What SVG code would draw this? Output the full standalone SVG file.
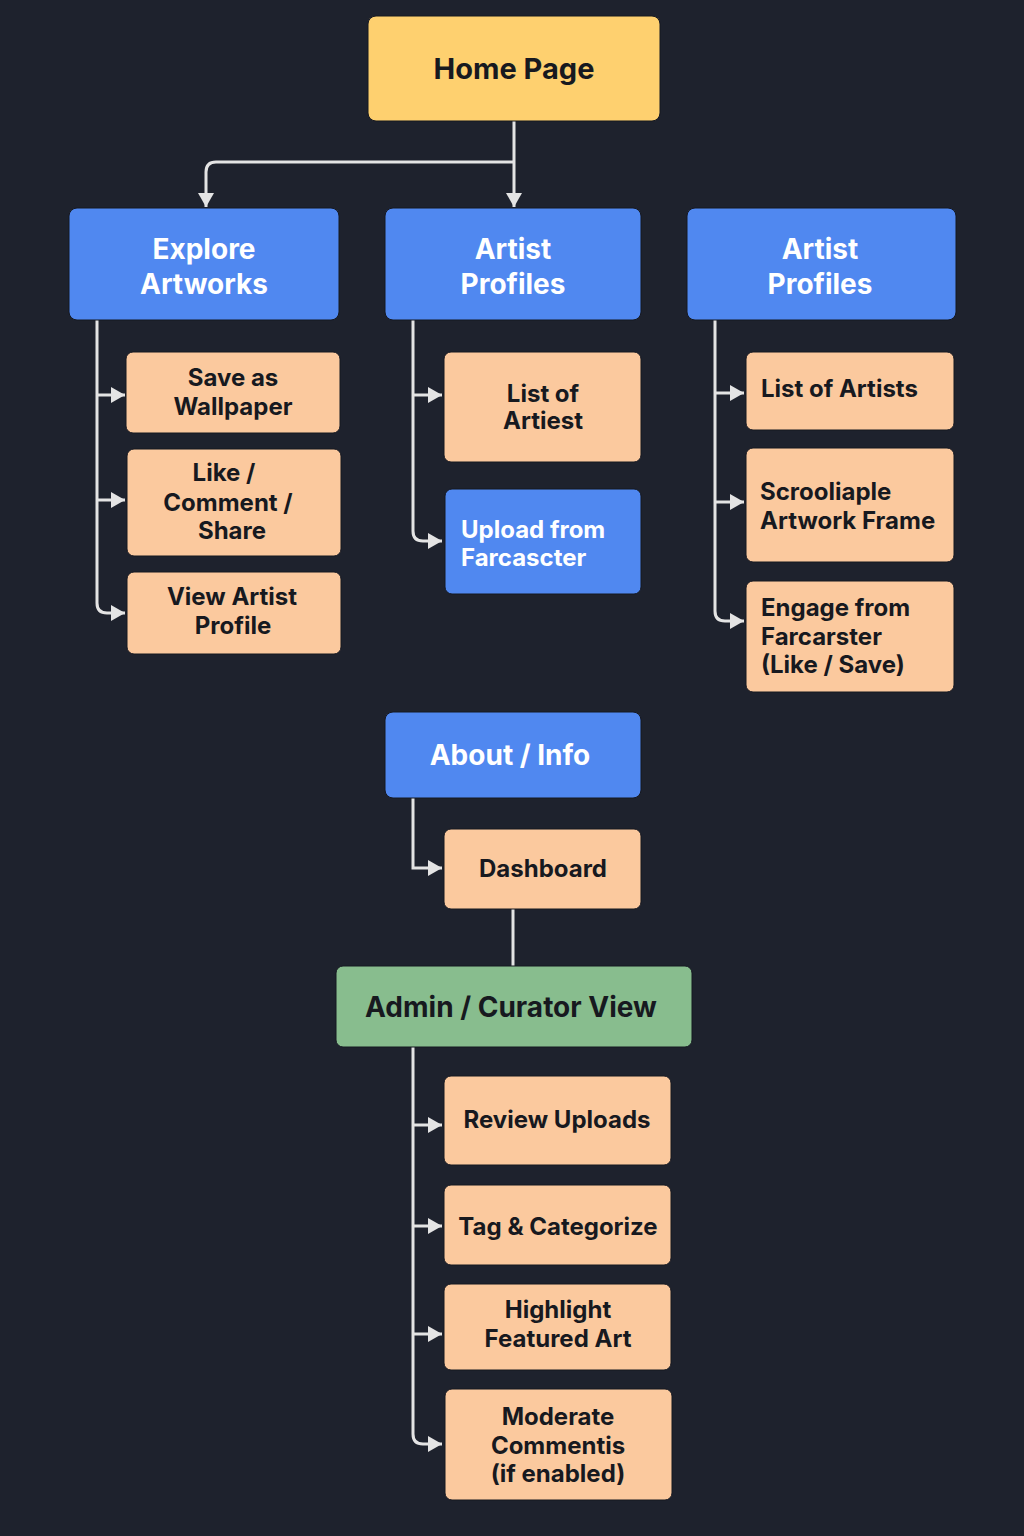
<svg xmlns="http://www.w3.org/2000/svg" width="1024" height="1536" viewBox="0 0 1024 1536">
<style>
.bg{fill:#1e222d}
.n rect{stroke:#151821;stroke-width:1}
.y rect{fill:#fed06f}
.b rect{fill:#5088f0}
.p rect{fill:#fbc99e}
.g rect{fill:#88bd8e}
text{font-family:Inter,"Noto Sans","Liberation Sans",sans-serif;font-weight:700}
.hd{font-size:28px;fill:#ffffff;text-anchor:middle}
.dk{fill:#17191f}
.c{text-anchor:middle}
.s{font-size:24px}
.wl{font-size:24px;fill:#ffffff}
.conn path{fill:none;stroke:#e4e4e4;stroke-width:3}
</style>
<defs>
<marker id="ah" markerUnits="userSpaceOnUse" markerWidth="16" markerHeight="16" refX="14" refY="8" orient="auto">
<path d="M0,0 L14,8 L0,16 Z" fill="#e4e4e4"/>
</marker>
</defs>
<rect class="bg" x="0" y="0" width="1024" height="1536"/>

<g class="conn">
<path d="M514,121 V207" marker-end="url(#ah)"/>
<path d="M514,162 H216 Q206,162 206,172 V207" marker-end="url(#ah)"/>
<path d="M97,320 V603 Q97,613 107,613 H125" marker-end="url(#ah)"/>
<path d="M97,395 H125" marker-end="url(#ah)"/>
<path d="M97,500 H125" marker-end="url(#ah)"/>
<path d="M413,320 V531 Q413,541 423,541 H442" marker-end="url(#ah)"/>
<path d="M413,395 H442" marker-end="url(#ah)"/>
<path d="M715,320 V611 Q715,621 725,621 H744" marker-end="url(#ah)"/>
<path d="M715,393 H744" marker-end="url(#ah)"/>
<path d="M715,502 H744" marker-end="url(#ah)"/>
<path d="M413,798 V868 H442" marker-end="url(#ah)"/>
<path d="M513,909 V966"/>
<path d="M413,1047 V1434 Q413,1444 423,1444 H442" marker-end="url(#ah)"/>
<path d="M413,1125 H442" marker-end="url(#ah)"/>
<path d="M413,1226 H442" marker-end="url(#ah)"/>
<path d="M413,1334 H442" marker-end="url(#ah)"/>
</g>

<g id="home" class="n y">
<rect x="368" y="16" width="292" height="105" rx="8"/>
<text class="dk c" x="514" y="79" font-size="29">Home Page</text>
</g>

<g id="explore" class="n b">
<rect x="69" y="208" width="270" height="112" rx="8"/>
<text class="hd" x="204" y="259">Explore</text>
<text class="hd" x="204" y="294">Artworks</text>
</g>

<g id="artist-mid" class="n b">
<rect x="385" y="208" width="256" height="112" rx="8"/>
<text class="hd" x="513" y="259">Artist</text>
<text class="hd" x="513" y="294">Profiles</text>
</g>

<g id="artist-right" class="n b">
<rect x="687" y="208" width="269" height="112" rx="8"/>
<text class="hd" x="820" y="259">Artist</text>
<text class="hd" x="820" y="294">Profiles</text>
</g>

<g id="save-wallpaper" class="n p">
<rect x="126" y="352" width="214" height="81" rx="7"/>
<text class="dk c s" x="233" y="386">Save as</text>
<text class="dk c s" x="233" y="415">Wallpaper</text>
</g>

<g id="like-comment" class="n p">
<rect x="127" y="449" width="214" height="107" rx="7"/>
<text class="dk c s" x="224" y="481">Like /</text>
<text class="dk c s" x="228" y="511">Comment /</text>
<text class="dk c s" x="232" y="539">Share</text>
</g>

<g id="view-artist" class="n p">
<rect x="127" y="572" width="214" height="82" rx="7"/>
<text class="dk c s" x="232" y="605">View Artist</text>
<text class="dk c s" x="233" y="634">Profile</text>
</g>

<g id="list-artiest" class="n p">
<rect x="444" y="352" width="197" height="110" rx="7"/>
<text class="dk c s" x="543" y="402">List of</text>
<text class="dk c s" x="543" y="429">Artiest</text>
</g>

<g id="upload" class="n b">
<rect x="445" y="489" width="196" height="105" rx="7"/>
<text class="wl" x="461" y="538">Upload from</text>
<text class="wl" x="461" y="566">Farcascter</text>
</g>

<g id="list-artists" class="n p">
<rect x="746" y="352" width="208" height="78" rx="7"/>
<text class="dk s" x="761" y="397">List of Artists</text>
</g>

<g id="scrollable" class="n p">
<rect x="746" y="448" width="208" height="114" rx="7"/>
<text class="dk s" x="760" y="500">Scrooliaple</text>
<text class="dk s" x="760" y="529">Artwork Frame</text>
</g>

<g id="engage" class="n p">
<rect x="746" y="581" width="208" height="111" rx="7"/>
<text class="dk s" x="761" y="616">Engage from</text>
<text class="dk s" x="761" y="645">Farcarster</text>
<text class="dk s" x="761" y="673">(Like / Save)</text>
</g>

<g id="about" class="n b">
<rect x="385" y="712" width="256" height="86" rx="8"/>
<text class="hd" x="510" y="765">About / Info</text>
</g>

<g id="dashboard" class="n p">
<rect x="444" y="829" width="197" height="80" rx="7"/>
<text class="dk c s" x="543" y="877">Dashboard</text>
</g>

<g id="admin" class="n g">
<rect x="336" y="966" width="356" height="81" rx="7"/>
<text class="dk c" x="511" y="1017" font-size="28">Admin / Curator View</text>
</g>

<g id="review" class="n p">
<rect x="444" y="1076" width="227" height="89" rx="7"/>
<text class="dk c s" x="557" y="1128">Review Uploads</text>
</g>

<g id="tag" class="n p">
<rect x="444" y="1185" width="227" height="80" rx="7"/>
<text class="dk c s" x="558" y="1235">Tag &amp; Categorize</text>
</g>

<g id="highlight" class="n p">
<rect x="444" y="1284" width="227" height="86" rx="7"/>
<text class="dk c s" x="558" y="1318">Highlight</text>
<text class="dk c s" x="558" y="1347">Featured Art</text>
</g>

<g id="moderate" class="n p">
<rect x="445" y="1389" width="227" height="111" rx="7"/>
<text class="dk c s" x="558" y="1425">Moderate</text>
<text class="dk c s" x="558" y="1454">Commentis</text>
<text class="dk c s" x="558" y="1482">(if enabled)</text>
</g>
</svg>
